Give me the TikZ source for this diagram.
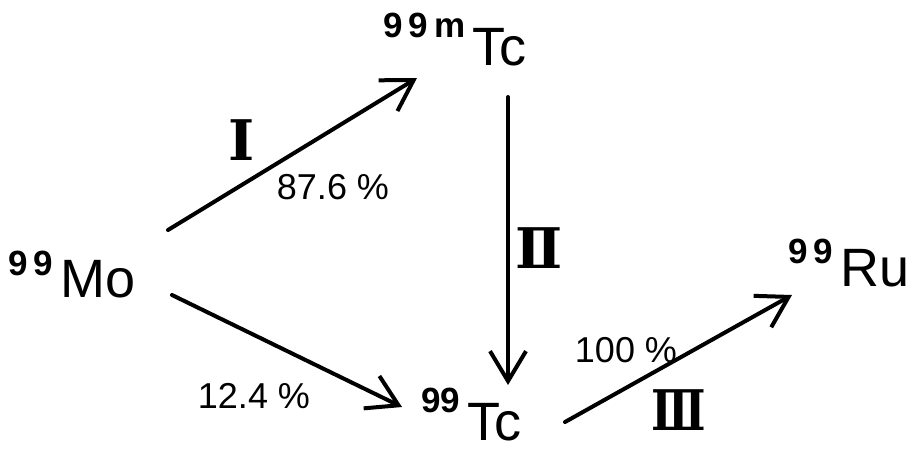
\documentclass[tikz,border=0pt]{standalone}
\usepackage{fontspec}
\setsansfont{Liberation Sans}
\newfontfamily\numeralfont{DejaVu Serif}
\usetikzlibrary{arrows.meta}
\newcommand{\massgap}{\hspace{6pt}}
\newcommand{\nuclide}[3][24pt]{\raisebox{#1}{\fontsize{35}{35}\selectfont\bfseries #2}\hspace{7pt}#3}

\begin{document}
\begin{tikzpicture}[x=1pt,y=-1pt,
    decay/.style={line width=4pt, line cap=round, -{Straight Barb[length=30pt,width=36pt]}},
    element/.style={font=\sffamily\fontsize{54}{60}\selectfont, inner sep=0pt, anchor=base west},
    ratio/.style={font=\sffamily\fontsize{36}{40}\selectfont, inner sep=0pt},
    roman/.style={font=\numeralfont\bfseries\fontsize{56}{60}\selectfont, inner sep=0pt}]
    \useasboundingbox (0,0) rectangle (917,453);

    % Nuclides
    \node[element] (mo)  at (8,297)   {\nuclide[22pt]{9\massgap 9}{Mo}};
    \node[element] (tcm) at (383,65)  {\nuclide[28pt]{9\massgap 9\massgap m}{Tc}};
    \node[element] (tc)  at (421,440) {\nuclide[28pt]{99}{Tc}};
    \node[element] (ru)  at (788,286) {\nuclide[23pt]{9\massgap 9}{Ru}};

    % Arrow ends
    \coordinate (i0)   at (168,230);
    \coordinate (i1)   at (417,78);
    \coordinate (ii0)  at (508,97);
    \coordinate (ii1)  at (508,385);
    \coordinate (d0)   at (172,295);
    \coordinate (d1)   at (402,407);
    \coordinate (iii0) at (565,422);
    \coordinate (iii1) at (792,295);

    % Decays
    \draw[decay] (i0) -- (i1);
    \draw[decay] (ii0) -- (ii1);
    \draw[decay] (d0) -- (d1);
    \draw[decay] (iii0) -- (iii1);

    % Labels
    \node[roman] (one)   at (242,140) {Ⅰ};
    \node[ratio] (pone)  at (333,187) {87.6 \%};
    \node[roman] (two)   at (539,248) {Ⅱ};
    \node[ratio] (ptwo)  at (254,396) {12.4 \%};
    \node[ratio] (pthr)  at (626,350) {100 \%};
    \node[roman, xscale=0.8] (three) at (679,410) {Ⅲ};
\end{tikzpicture}
\end{document}
